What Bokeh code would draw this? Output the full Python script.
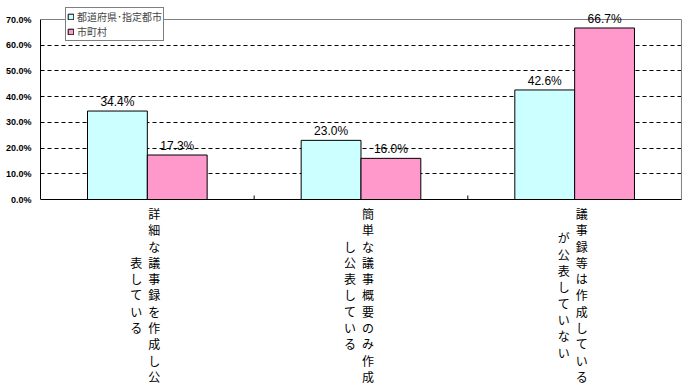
from bokeh.plotting import figure
from bokeh.models import (Range1d, FixedTicker, PrintfTickFormatter, ColumnDataSource,
                          Label, LabelSet, Legend, LegendItem)
from bokeh.core.properties import value
from bokeh.transform import dodge
from bokeh.embed import file_html
from bokeh.resources import INLINE

# ---- data ----
categories = ["詳細な議事録を作成し公表している",
              "簡単な議事概要のみ作成し公表している",
              "議事録等は作成しているが公表していない"]
# vertical label columns (right column first, then left column)
label_columns = [["詳細な議事録を作成し公", "表している"],
                 ["簡単な議事概要のみ作成", "し公表している"],
                 ["議事録等は作成している", "が公表していない"]]
series_names = ["都道府県･指定都市", "市町村"]
pref_values = [34.4, 23.0, 42.6]
muni_values = [17.3, 16.0, 66.7]
y_ticks = [0, 10, 20, 30, 40, 50, 60, 70]
grid_ticks = [10, 20, 30, 40, 50, 60]

JP = "Noto Sans CJK JP"

# ---- layout (pixels) ----
W, H = 688, 387
PLOT_TOP, PLOT_BOTTOM = 19, 199          # pixel rows of 70% and 0%
Y_MAX = y_ticks[-1]
PX_PER_UNIT = (PLOT_BOTTOM - PLOT_TOP) / Y_MAX
y_hi = Y_MAX + PLOT_TOP / PX_PER_UNIT
y_lo = -(H - PLOT_BOTTOM) / PX_PER_UNIT
N = len(categories)
X_MAX = N

xs = [i + 0.5 for i in range(N)]
src = ColumnDataSource(dict(
    x=xs, cat=categories,
    pref=pref_values, muni=muni_values,
    pref_lbl=[f"{v:.1f}%" for v in pref_values],
    muni_lbl=[f"{v:.1f}%" for v in muni_values],
))

p = figure(width=W, height=H, x_range=Range1d(0, X_MAX * 1.0016), y_range=Range1d(y_lo, y_hi),
           output_backend="svg", toolbar_location=None, x_axis_type=None,
           min_border_left=40, min_border_top=0, min_border_bottom=0, min_border_right=6)
p.outline_line_color = None
p.background_fill_color = "white"
p.border_fill_color = "white"

# grid
p.xgrid.visible = False
p.ygrid.ticker = FixedTicker(ticks=grid_ticks)
p.ygrid.grid_line_color = "black"
p.ygrid.grid_line_dash = "4 3"
p.ygrid.grid_line_width = 1

# plot-area frame: grey top/right, black baseline with inner ticks
p.segment(x0=[0, X_MAX], y0=[Y_MAX, 0], x1=[X_MAX, X_MAX], y1=[Y_MAX, Y_MAX],
          line_color="#808080", line_width=1)
p.segment(x0=[0], y0=[0], x1=[X_MAX], y1=[0], line_color="black", line_width=1)
bounds = list(range(1, N))
p.segment(x0=bounds, y0=[0] * len(bounds), x1=bounds, y1=[4 / PX_PER_UNIT] * len(bounds),
          line_color="black", line_width=1)

r1 = p.vbar(x=dodge("x", -0.14), top="pref", width=0.28, source=src,
            fill_color="#CCFFFF", line_color="black", line_width=1)
r2 = p.vbar(x=dodge("x", 0.14), top="muni", width=0.28, source=src,
            fill_color="#FF99CC", line_color="black", line_width=1)

for col, lbl, off in (("pref", "pref_lbl", -0.14), ("muni", "muni_lbl", 0.14)):
    p.add_layout(LabelSet(x=dodge("x", off), y=col, text=lbl, source=src,
                          text_align="center", text_baseline="bottom", y_offset=2,
                          text_font=value("Liberation Sans"), text_font_size=value("12px"),
                          text_color="black"))

# y axis
p.yaxis.ticker = FixedTicker(ticks=y_ticks)
p.yaxis.bounds = (0, Y_MAX)
p.yaxis.formatter = PrintfTickFormatter(format="%.1f%%")
p.yaxis.axis_line_color = "black"
p.yaxis.major_tick_out = 0
p.yaxis.major_tick_in = 0
p.yaxis.minor_tick_line_color = None
p.yaxis.major_label_standoff = 9
p.yaxis.major_label_text_font = "Liberation Sans"
p.yaxis.major_label_text_font_style = "bold"
p.yaxis.major_label_text_font_size = "9px"
p.yaxis.major_label_text_color = "black"

# vertical category labels (Japanese vertical writing: right column first)
LABEL_CENTER_PX = 294.5
y_center = (PLOT_BOTTOM - LABEL_CENTER_PX) / PX_PER_UNIT
for x, cols in zip(xs, label_columns):
    for k, col in enumerate(cols):
        p.add_layout(Label(x=x, y=y_center, x_units="data", y_units="data",
                           x_offset=7 if k == 0 else -11,
                           text="\n".join(col), text_align="center", text_baseline="middle",
                           text_font=JP, text_font_size="12px", text_line_height=0.96,
                           text_color="black"))

legend = Legend(items=[LegendItem(label=series_names[0], renderers=[r1]),
                       LegendItem(label=series_names[1], renderers=[r2])],
                location=(25, H - 41), orientation="vertical")
legend.label_text_font = JP
legend.label_text_font_size = "10px"
legend.label_height = 12
legend.glyph_width = 7
legend.glyph_height = 7
legend.label_standoff = 3
legend.padding = 1
legend.spacing = 0
legend.margin = 0
legend.border_line_color = "black"
legend.border_line_width = 1
legend.background_fill_color = "white"
legend.background_fill_alpha = 1
p.add_layout(legend)

open("out.html", "w").write(file_html(p, INLINE))
